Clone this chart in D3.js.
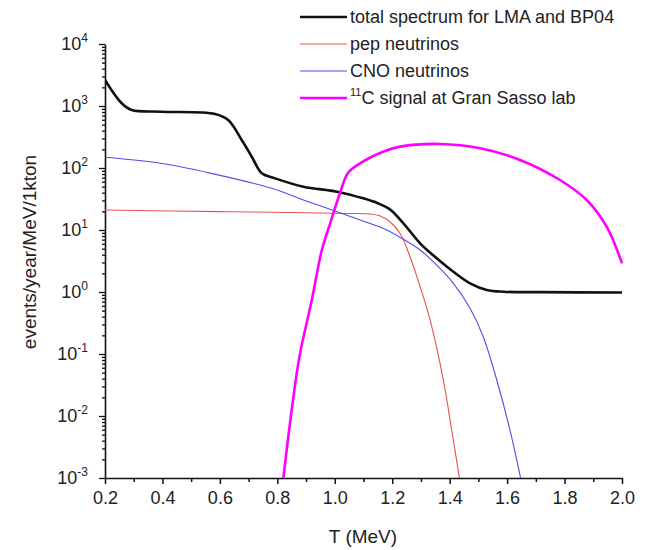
<!DOCTYPE html>
<html><head><meta charset="utf-8">
<script src="https://cdn.jsdelivr.net/npm/d3@7"></script>
<style>body{margin:0;background:#fff}svg{display:block}text{font-family:"Liberation Sans",Arial,sans-serif;fill:#222}</style>
</head><body><svg id="c" width="654" height="550"></svg>
<script>
// ---- data ----
const totalT = [0.2,0.258,0.293,0.397,0.583,0.629,0.676,0.711,0.746,0.792,0.891,1.007,1.099,1.15,1.192,1.239,1.297,1.355,1.413,1.471,1.529,1.587,1.715,2.0];
const totalV = [2625,1107,861,809,743,594,283,152,82,68,49.9,41.5,32.4,27,21.5,12.8,6.1,3.5,2.12,1.38,1.08,1.01,0.995,0.98];
const pepT = [0.2,0.6,0.9,1.05,1.123,1.158,1.192,1.227,1.262,1.297,1.332,1.378,1.407,1.434];
const pepV = [21,19.8,19,18.5,18.1,16.8,13.6,8.85,3.71,1.22,0.353,0.0381,0.00594,0.001];
const cnoT = [0.2,0.4,0.57,0.78,0.891,1.007,1.123,1.181,1.239,1.297,1.355,1.413,1.471,1.517,1.564,1.610,1.647];
const cnoV = [149,118,82,47,30.5,19.7,12.7,10,7.08,4.75,2.72,1.38,0.546,0.19,0.0381,0.00594,0.001];
const c11T = [0.821,0.850,0.877,0.920,0.955,0.984,1.018,1.046,1.088,1.168,1.227,1.367,1.506,1.645,1.784,1.877,1.947,2.0];
const c11V = [0.001,0.0125,0.0904,0.743,4.75,12.8,39.1,83,119,183,221,244,208,135,64,30.5,11.2,2.9];
const xTicks = [0.2,0.4,0.6,0.8,1.0,1.2,1.4,1.6,1.8,2.0];
const xMinor = [0.3,0.5,0.7,0.9,1.1,1.3,1.5,1.7,1.9];
const yExps = [-3,-2,-1,0,1,2,3,4];
const legendLabels = ["total spectrum for LMA and BP04","pep neutrinos","CNO neutrinos","signal at Gran Sasso lab"];

const svg = d3.select("#c");
const x = d3.scaleLinear().domain([0.2,2.0]).range([105,622]);
const y = d3.scaleLog().domain([1e-3,1e4]).range([478,44]);

svg.append("defs").append("clipPath").attr("id","clip")
  .append("rect").attr("x",105).attr("y",30).attr("width",540).attr("height",448);

// axes
const xAxis = svg.append("g").attr("transform","translate(0,478)");
xAxis.call(d3.axisBottom(x).tickValues(xTicks).tickSize(6).tickFormat(d3.format(".1f")).tickSizeOuter(0));
xAxis.append("g").call(d3.axisBottom(x).tickValues(xMinor).tickSize(4).tickFormat("")).select(".domain").remove();
xAxis.selectAll("text").attr("font-size",18).attr("dy","0.95em").style("fill","#222");
xAxis.selectAll(".domain").attr("stroke","#111").attr("stroke-width",1.6);
xAxis.selectAll(".tick line").attr("stroke","#111").attr("stroke-width",1.5);

const minorY = [];
for (let e=-3;e<4;e++) for (let m=2;m<=9;m++) minorY.push(m*Math.pow(10,e));
const yAxis = svg.append("g").attr("transform","translate(105,0)");
yAxis.call(d3.axisLeft(y).tickValues(yExps.map(e=>Math.pow(10,e))).tickSize(6).tickFormat("").tickSizeOuter(0));
yAxis.append("g").call(d3.axisLeft(y).tickValues(minorY).tickSize(3).tickFormat("")).select(".domain").remove();
yAxis.selectAll(".domain").attr("stroke","#111").attr("stroke-width",1.6);
yAxis.selectAll(".tick line").attr("stroke","#111").attr("stroke-width",1.3);
// y tick labels with superscripts
yExps.forEach(e=>{
  const t = svg.append("text").attr("x",88).attr("y",y(Math.pow(10,e))+6)
    .attr("text-anchor","end").attr("font-size",18);
  t.append("tspan").text("10");
  t.append("tspan").attr("font-size",12).attr("dy",-8).text(String(e));
});

// titles
svg.append("text").attr("x",363).attr("y",543).attr("text-anchor","middle").attr("font-size",19).text("T (MeV)");
svg.append("text").attr("transform","translate(36,252) rotate(-90)").attr("text-anchor","middle")
  .attr("font-size",19).text("events/year/MeV/1kton");

// curves
const series = [
  {T:totalT,V:totalV,color:"#111",w:2.6},
  {T:pepT,V:pepV,color:"#e8504f",w:1.1},
  {T:cnoT,V:cnoV,color:"#4e4ee6",w:1.1},
  {T:c11T,V:c11V,color:"#ff00ff",w:2.6}
];
const line = d3.line().x(d=>x(d[0])).y(d=>y(d[1])).curve(d3.curveCatmullRom.alpha(0.5));
const g = svg.append("g").attr("clip-path","url(#clip)");
series.forEach(s=>{
  g.append("path").datum(s.T.map((t,i)=>[t,s.V[i]]))
   .attr("d",line).attr("fill","none").attr("stroke",s.color).attr("stroke-width",s.w)
   .attr("stroke-linejoin","round");
});

// legend
series.forEach((s,i)=>{
  const ly = 17 + i*27;
  svg.append("line").attr("x1",300).attr("x2",347).attr("y1",ly).attr("y2",ly)
    .attr("stroke",s.color).attr("stroke-width",s.w);
  const t = svg.append("text").attr("x",350).attr("y",ly+6).attr("font-size",18);
  if (i===3) {
    t.append("tspan").attr("font-size",11).attr("dy",-8).text("11");
    t.append("tspan").attr("dy",8).text("C " + legendLabels[i]);
  } else t.text(legendLabels[i]);
});
</script></body></html>
